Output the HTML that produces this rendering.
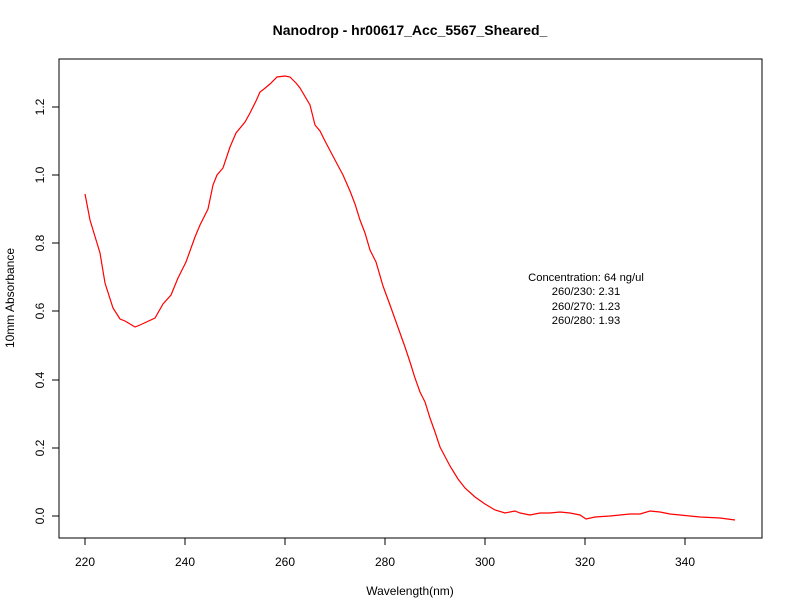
<!DOCTYPE html>
<html><head><meta charset="utf-8"><style>body{margin:0;background:#fff}svg{display:block}</style></head>
<body>
<svg width="792" height="612" xmlns="http://www.w3.org/2000/svg" font-family="Liberation Sans, sans-serif" font-size="12">
<rect width="792" height="612" fill="#fff"/>
<text x="410" y="35" text-anchor="middle" font-weight="bold" font-size="14">Nanodrop - hr00617_Acc_5567_Sheared_</text>
<rect x="59" y="59" width="703" height="479" fill="none" stroke="#000" stroke-width="1"/>
<g stroke="#000">
<line x1="85" y1="538" x2="85" y2="545"/><line x1="185" y1="538" x2="185" y2="545"/><line x1="285" y1="538" x2="285" y2="545"/><line x1="385" y1="538" x2="385" y2="545"/><line x1="485" y1="538" x2="485" y2="545"/><line x1="585" y1="538" x2="585" y2="545"/><line x1="685" y1="538" x2="685" y2="545"/>
<line x1="52" y1="516" x2="59" y2="516"/><line x1="52" y1="448" x2="59" y2="448"/><line x1="52" y1="380" x2="59" y2="380"/><line x1="52" y1="311" x2="59" y2="311"/><line x1="52" y1="243" x2="59" y2="243"/><line x1="52" y1="175" x2="59" y2="175"/><line x1="52" y1="107" x2="59" y2="107"/>
</g>
<g text-anchor="middle">
<text x="85" y="566">220</text><text x="185" y="566">240</text><text x="285" y="566">260</text><text x="385" y="566">280</text><text x="485" y="566">300</text><text x="585" y="566">320</text><text x="685" y="566">340</text>
<text transform="translate(44,516) rotate(-90)">0.0</text><text transform="translate(44,448) rotate(-90)">0.2</text><text transform="translate(44,380) rotate(-90)">0.4</text><text transform="translate(44,311) rotate(-90)">0.6</text><text transform="translate(44,243) rotate(-90)">0.8</text><text transform="translate(44,175) rotate(-90)">1.0</text><text transform="translate(44,107) rotate(-90)">1.2</text>
<text x="410" y="595">Wavelength(nm)</text>
<text transform="translate(14,298) rotate(-90)">10mm Absorbance</text>
<g font-size="11.2">
<text x="586" y="281">Concentration: 64 ng/ul</text>
<text x="586" y="295">260/230: 2.31</text>
<text x="586" y="310">260/270: 1.23</text>
<text x="586" y="324">260/280: 1.93</text>
</g>
</g>
<polyline fill="none" stroke="#f00" stroke-width="1.2" points="85,194 90,220 100,253 105,283 113,308 120,319 125,321 135,327 140,325 155,318 163,304 171,295 178,278 186,262 195,237 200,225 208,209 213,185 217,175 223,168 230,147 236,133 245,122 250,113 256,101 260,92 264,89 270,84 277,77 285,76 290,77 296,83 300,88 310,105 315,125 320,131 325,141 335,160 343,175 350,191 355,204 360,220 365,233 370,250 376,262 383,286 390,305 400,333 405,347 410,362 415,378 420,392 425,402 430,418 435,432 440,447 450,466 458,479 465,488 475,497 485,504 495,510 505,513 515,511 520,513 530,515 540,513 550,513 560,512 570,513 580,515 586,519 595,517 610,516 620,515 630,514 640,514 650,511 660,512 670,514 680,515 700,517 720,518 735,520"/>
</svg>
</body></html>
